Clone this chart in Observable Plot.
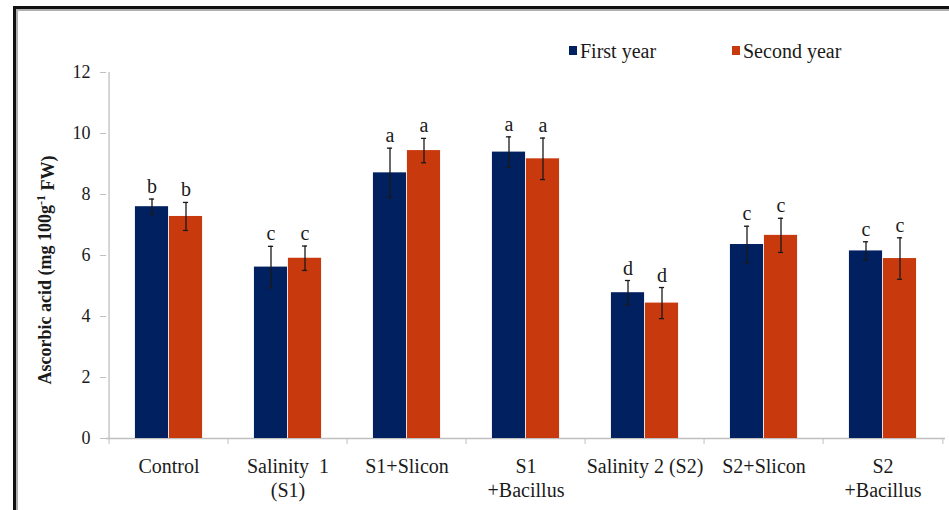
<!DOCTYPE html>
<html>
<head>
<meta charset="utf-8">
<script src="https://cdn.jsdelivr.net/npm/d3@7"></script>
<script src="https://cdn.jsdelivr.net/npm/@observablehq/plot@0.6"></script>
<style>
  html, body { margin: 0; padding: 0; background: #fff; }
  #wrap { position: relative; width: 949px; height: 510px; overflow: hidden; }
  #border { position: absolute; left: 13px; top: 6px; width: 1000px; height: 600px;
            border-left: 3px solid #111; border-top: 3px solid #111;
            box-shadow: inset 2px 2px 0 #b0b0b0; pointer-events: none; }
  #chart { position: absolute; left: 0; top: 0; }
  #chart svg text { font-family: 'Liberation Serif', 'Times New Roman', serif !important; }
</style>
</head>
<body>
<div id="wrap"><div id="chart"></div><div id="border"></div></div>
<script>
const categories = ["Control", "Salinity  1\n(S1)", "S1+Slicon", "S1\n+Bacillus", "Salinity 2 (S2)", "S2+Slicon", "S2\n+Bacillus"];
const firstYear = [7.6, 5.62, 8.71, 9.39, 4.78, 6.36, 6.15];
const firstErr = [0.25, 0.68, 0.81, 0.5, 0.4, 0.6, 0.3];
const secondYear = [7.28, 5.91, 9.44, 9.17, 4.44, 6.66, 5.9];
const secondErr = [0.46, 0.4, 0.4, 0.68, 0.51, 0.56, 0.68];
const firstLetters = ["b", "c", "a", "a", "d", "c", "c"];
const secondLetters = ["b", "c", "a", "a", "d", "c", "c"];
const yTicks = [0, 2, 4, 6, 8, 10, 12];
const seriesNames = ["First year", "Second year"];
const colors = ["#002060", "#c83a0e"];

const rows1 = categories.map((c, i) => ({cat: c, v: firstYear[i], e: firstErr[i], l: firstLetters[i]}));
const rows2 = categories.map((c, i) => ({cat: c, v: secondYear[i], e: secondErr[i], l: secondLetters[i]}));

const FONT = "'Liberation Serif', 'Times New Roman', serif";
const W = 949, H = 510, mL = 106, mR = 4, mT = 72, mB = 72;
const step = (W - mL - mR) / categories.length;
const bw = 34, half = bw / 2, cap = 3;
const axisGray = "#bfbfbf";

function seriesMarks(rows, color, side) {
  const off = side * half;
  return [
    Plot.barY(rows, {x: "cat", y: "v", fill: color,
      insetLeft: side < 0 ? step / 2 - bw : step / 2,
      insetRight: side < 0 ? step / 2 : step / 2 - bw}),
    Plot.ruleX(rows, {x: "cat", y1: d => d.v - d.e, y2: d => d.v + d.e, dx: off, stroke: "#1a1a1a", strokeWidth: 1.3}),
    Plot.tickY(rows, {x: "cat", y: d => d.v + d.e, dx: off, insetLeft: step / 2 - cap, insetRight: step / 2 - cap, stroke: "#1a1a1a", strokeWidth: 1.3}),
    Plot.tickY(rows, {x: "cat", y: d => d.v - d.e, dx: off, insetLeft: step / 2 - cap, insetRight: step / 2 - cap, stroke: "#1a1a1a", strokeWidth: 1.3}),
    Plot.text(rows, {x: "cat", y: d => d.v + d.e, text: "l", dx: off, dy: -6, lineAnchor: "bottom", fontSize: 20, fontFamily: FONT, fill: "#1a1a1a"})
  ];
}

const chart = Plot.plot({
  width: W, height: H,
  marginLeft: mL, marginRight: mR, marginTop: mT, marginBottom: mB,
  style: {fontFamily: FONT, fontSize: "18px", background: "transparent", color: "#1a1a1a"},
  x: {domain: categories, padding: 0, axis: null},
  y: {domain: [0, 12], axis: null},
  marks: [
    Plot.ruleY([0], {stroke: axisGray, strokeWidth: 1.3}),
    Plot.ruleX([categories[0]], {y1: 0, y2: 12, dx: -step / 2, stroke: axisGray, strokeWidth: 1.3}),
    Plot.axisY(yTicks, {label: null, tickSize: 6, tickPadding: 10, stroke: axisGray, fill: "#1a1a1a", fontSize: 18, fontFamily: FONT, fontVariant: "normal"}),
    Plot.axisX(categories, {label: null, tickSize: 6, tickFormat: () => "", dx: -step / 2, stroke: axisGray}),
    Plot.axisX([categories[categories.length - 1]], {label: null, tickSize: 6, tickFormat: () => "", dx: step / 2, stroke: axisGray}),
    Plot.axisX(categories, {label: null, tickSize: 0, tickPadding: 17, fontSize: 20, fontFamily: FONT, fontVariant: "normal", lineHeight: 1.2, fill: "#1a1a1a"}),
    ...seriesMarks(rows1, colors[0], -1),
    ...seriesMarks(rows2, colors[1], 1)
  ]
});
document.getElementById("chart").appendChild(chart);

const svg = d3.select(chart);
svg.selectAll("text").style("font-family", FONT);

// Y axis title with superscript
const yl = svg.append("text")
  .attr("transform", "translate(47,270) rotate(-90)")
  .attr("text-anchor", "middle")
  .attr("dominant-baseline", "middle")
  .style("font-family", FONT)
  .style("font-weight", "bold")
  .style("font-size", "18px")
  .attr("fill", "#1a1a1a");
yl.append("tspan").text("Ascorbic acid (mg 100g");
yl.append("tspan").attr("dy", "-0.45em").style("font-size", "12px").text("-1");
yl.append("tspan").attr("dy", "0.45em").text(" FW)");

// Legend
const legendX = [569, 732];
seriesNames.forEach((name, i) => {
  svg.append("rect").attr("x", legendX[i]).attr("y", 46).attr("width", 8).attr("height", 9).attr("fill", colors[i]);
  svg.append("text").attr("x", legendX[i] + 11).attr("y", 58)
    .attr("text-anchor", "start")
    .style("font-family", FONT)
    .style("font-size", "20px").attr("fill", "#1a1a1a").text(name);
});
</script>
</body>
</html>
